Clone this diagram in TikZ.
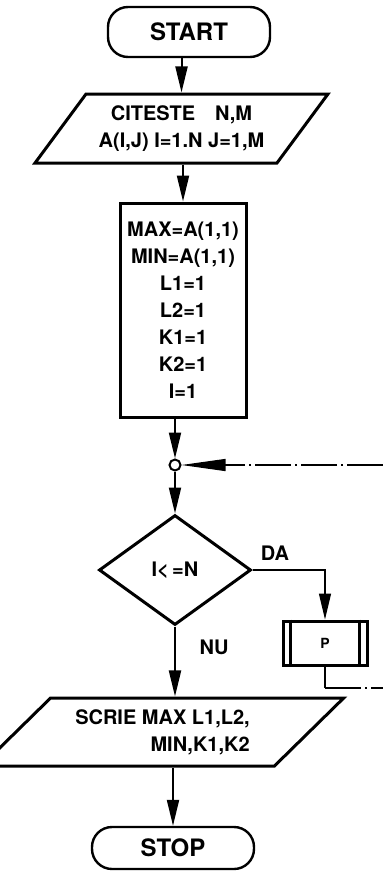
\documentclass[tikz,border=0pt]{standalone}
\usepackage{fontspec}
\setmainfont{TeX Gyre Heros}
\usetikzlibrary{positioning,arrows.meta,shapes.geometric}

\begin{document}
\begin{tikzpicture}[x=1pt,y=-1pt,
  box/.style={draw, line width=3pt, align=center, inner sep=0pt, font=\bfseries\fontsize{20}{27}\selectfont},
  term/.style={box, line width=2.4pt, rounded corners=20pt, minimum width=162pt, font=\bfseries\fontsize{24}{28}\selectfont},
  io/.style={box, trapezium, trapezium stretches=true},
  lbl/.style={font=\bfseries\fontsize{20}{24}\selectfont, inner sep=0pt},
  flow/.style={line width=2pt, -{Triangle[length=26pt,width=12pt]}},
  back/.style={line width=1.2pt, dash pattern=on 36pt off 4pt on 2pt off 4pt}]
\useasboundingbox (0,0) rectangle (383,871);

\node[term, minimum height=50pt] (start) at (189,32) {START};
\node[io, trapezium left angle=46, trapezium right angle=134, minimum width=294pt, minimum height=69pt] (read) at (181.5,128.5) {CITESTE\quad N,M\\A(I,J) I=1.N J=1,M};
\node[box, minimum width=126pt, minimum height=214pt] (init) at (183,310) {MAX=A(1,1)\\MIN=A(1,1)\\L1=1\\L2=1\\K1=1\\K2=1\\I=1};
\node[draw, circle, line width=2pt, minimum size=11pt, inner sep=0pt] (join) at (175,465) {};
\node[box, diamond, minimum width=152pt, minimum height=110pt] (test) at (175,570) {I<\,=N};
\node[box, minimum width=84pt, minimum height=44pt, font=\bfseries\fontsize{14}{16}\selectfont] (proc) at (325,643) {P};
\draw[line width=2.4pt] ([xshift=9pt]proc.north west) -- ([xshift=9pt]proc.south west);
\draw[line width=2.4pt] ([xshift=-9pt]proc.north east) -- ([xshift=-9pt]proc.south east);
\node[io, align=right, trapezium left angle=40, trapezium right angle=140, minimum width=364pt, minimum height=68pt] (write) at (162.5,732) {SCRIE MAX L1,L2,\\MIN,K1,K2};
\node[term, minimum height=42pt] (stop) at (173,848) {STOP};

\node[lbl] (yes) at (275,553) {DA};
\node[lbl] (no) at (214,647) {NU};

\coordinate (ret1) at (383,688);
\coordinate (ret2) at (383,465);

\draw[flow] (start.south -| read.north) -- (read.north);
\draw[flow] (read.south -| init.north) -- (init.north);
\draw[flow] (init.south -| join.north) -- (join.north);
\draw[flow] (join.south) -- (test.north);
\draw[flow, line width=1.4pt] (test.east) -| (proc.north);
\draw[flow] (test.south) -- (test.south |- write.north);
\draw[flow] (write.south -| stop.north) -- (stop.north);
\draw[line width=1.4pt] (proc.south) -- (proc.south |- ret1);
\draw[back] (proc.south |- ret1) -- (ret1);
\draw[back, -{Triangle[length=44pt,width=12pt]}] (ret2) -- (join.east);
\end{tikzpicture}
\end{document}
